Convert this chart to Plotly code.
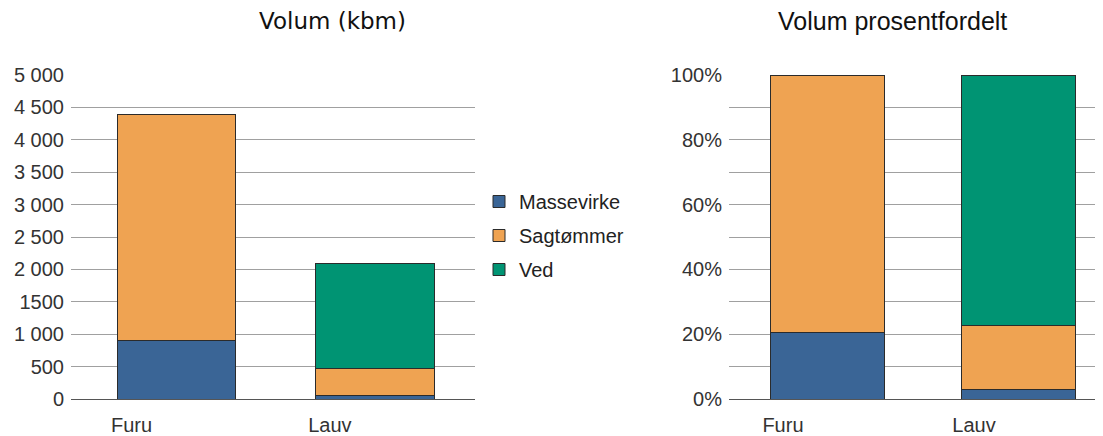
import plotly.graph_objects as go

# data
categories = ["Furu", "Lauv"]
massevirke = [905, 60]
sagtommer = [3480, 415]
ved = [0, 1610]

series_names = ["Massevirke", "Sagtømmer", "Ved"]
series_colors = ["#3a6596", "#efa352", "#009473"]

left_tickvals = [0, 500, 1000, 1500, 2000, 2500, 3000, 3500, 4000, 4500, 5000]
left_ticktext = ["0", "500", "1 000", "1500", "2 000", "2 500", "3 000", "3 500", "4 000", "4 500", "5 000"]
right_tickvals = [0, 20, 40, 60, 80, 100]
right_ticktext = ["0%", "20%", "40%", "60%", "80%", "100%"]

series = [massevirke, sagtommer, ved]
totals = [sum(s[i] for s in series) for i in range(len(categories))]
shares = [[v / t * 100 for v, t in zip(s, totals)] for s in series]

fig = go.Figure()

for name, color, vals, pct in zip(series_names, series_colors, series, shares):
    fig.add_trace(go.Bar(x=categories, y=vals, name=name, legendgroup=name,
                         marker=dict(color=color, line=dict(color="#2b2b2b", width=1)),
                         width=0.598, xaxis="x", yaxis="y"))
    fig.add_trace(go.Bar(x=categories, y=pct, name=name, legendgroup=name, showlegend=False,
                         marker=dict(color=color, line=dict(color="#2b2b2b", width=1)),
                         width=0.597, xaxis="x2", yaxis="y2"))

# page body adds an 8px margin, so the figure is 8px smaller than the window
W, H = 1095, 428
tickfont = dict(family="Liberation Sans, Arial", size=20, color="#333333")
grid = "#a0a0a0"

fig.update_layout(
    width=W, height=H,
    barmode="stack",
    plot_bgcolor="white", paper_bgcolor="white",
    margin=dict(l=0, r=0, t=67, b=34),
    font=dict(family="Liberation Sans, Arial", color="#333333"),
    xaxis=dict(domain=[63 / W, 467 / W], type="category", range=[-0.532, 1.505],
               showline=True, linecolor="#555555", linewidth=1, ticks="",
               tickfont=tickfont, ticklabelshift=-45, ticklabelstandoff=8),
    yaxis=dict(range=[0, 5000], tickvals=left_tickvals, ticktext=left_ticktext,
               showgrid=True, gridcolor=grid, gridwidth=1, zeroline=False,
               tickfont=tickfont, ticks="", ticklabelstandoff=6, anchor="x"),
    xaxis2=dict(domain=[721 / W, 1.0], type="category", range=[-0.518, 1.44],
                showline=True, linecolor="#555555", linewidth=1, ticks="",
                tickfont=tickfont, ticklabelshift=-45, ticklabelstandoff=8, anchor="y2"),
    yaxis2=dict(range=[0, 100], tickvals=right_tickvals, ticktext=right_ticktext,
                showgrid=True, gridcolor=grid, gridwidth=1, zeroline=False,
                minor=dict(dtick=10, showgrid=True, gridcolor=grid, gridwidth=1),
                tickfont=tickfont, ticks="", ticklabelstandoff=6, anchor="x2"),
    legend=dict(x=471 / W, y=(394 - 229) / 327, xanchor="left", yanchor="middle",
                traceorder="grouped", tracegroupgap=5,
                font=dict(family="Liberation Sans, Arial", size=20, color="#222222")),
    annotations=[
        dict(text="Volum (kbm)", x=324 / W, y=(394 - 12) / 327, xref="paper", yref="paper",
             showarrow=False, xanchor="center", yanchor="middle",
             font=dict(family="DejaVu Sans", size=23, color="#111111")),
        dict(text="Volum prosentfordelt", x=884 / W, y=(394 - 12) / 327, xref="paper", yref="paper",
             showarrow=False, xanchor="center", yanchor="middle",
             font=dict(family="Liberation Sans, Arial", size=25, color="#111111")),
    ],
)

fig.write_html("out.html")
